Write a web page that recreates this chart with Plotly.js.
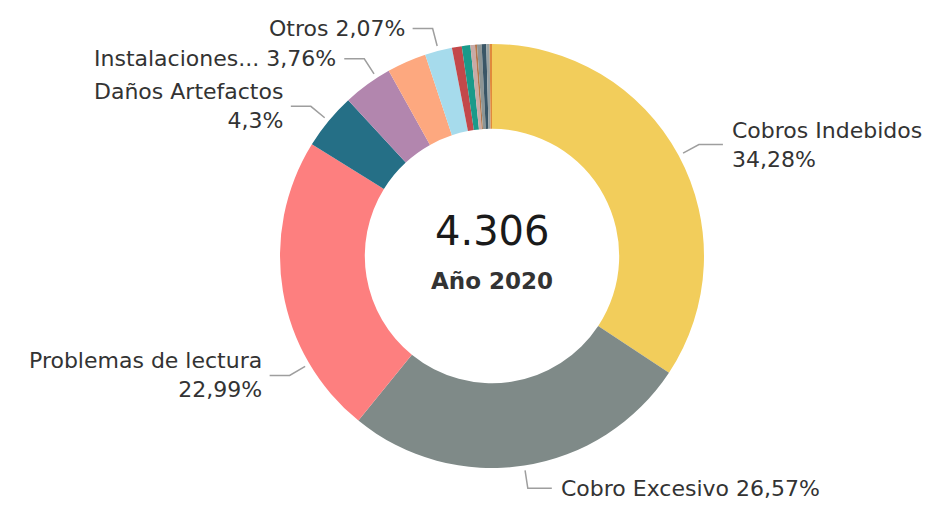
<!DOCTYPE html>
<html>
<head>
<meta charset="utf-8">
<script src="https://cdn.plot.ly/plotly-3.0.1.min.js"></script>
<style>
  html, body { margin: 0; padding: 0; background: #fff; }
  #chart { width: 930px; height: 506px; }
</style>
</head>
<body>
<div id="chart"></div>
<script>
// Reclamos por tipo, año 2020 (porcentaje del total)
let categorias = [
  "Cobros Indebidos", "Cobro Excesivo", "Problemas de lectura", "Daños Artefactos",
  "Instalaciones...", "Suministro", "Otros", "Corte y reposición", "Medidores",
  "Calidad", "Atención", "Facturación", "Conexiones", "Alumbrado", "Varios"
]
let porcentajes = [34.28, 26.57, 22.99, 4.3, 3.76, 3.0, 2.07, 0.75, 0.65, 0.35, 0.15, 0.35, 0.35, 0.25, 0.18]
let colores = [
  "#F2CD5B", "#7F8A88", "#FD7F7F", "#256F86", "#B286AE", "#FDA87F", "#A6DBEC",
  "#C3484A", "#1A9A8A", "#C8AAA6", "#B5764A", "#8D9594", "#3A5666", "#9AA3A3", "#E08A3C"
]
let totalReclamos = "4.306"
let subtitulo = "Año 2020"

// Which slices get an outside label (shift = degrees moved from slice centre, br = two lines)
let etiquetas = [
  {i: 0, shift: 0, br: true},
  {i: 1, shift: 0, br: false},
  {i: 2, shift: -21, br: true},
  {i: 3, shift: 0, br: true},
  {i: 4, shift: 3, br: false},
  {i: 6, shift: 0, br: false}
]

// Geometry of the donut in pixels
const W = 930, H = 506
const CX = 492, CY = 256, R = 212
const px = x => x / W
const py = y => 1 - y / H

function fmtPct(v) {
  let s = v.toFixed(2).replace(/0+$/, "").replace(/\.$/, "")
  return s.replace(".", ",") + "%"
}

let trace = {
  type: "pie",
  labels: categorias,
  values: porcentajes,
  hole: 0.6,
  sort: false,
  direction: "clockwise",
  rotation: 0,
  textinfo: "none",
  hoverinfo: "label+percent",
  marker: {colors: colores, line: {width: 0}},
  domain: {x: [px(CX - R), px(CX + R)], y: [py(CY + R), py(CY - R)]}
}

let total = porcentajes.reduce((a, b) => a + b, 0)
let shapes = []
let annotations = []

etiquetas.forEach(e => {
  let before = 0
  for (let k = 0; k < e.i; k++) before += porcentajes[k]
  let mid = (before + porcentajes[e.i] / 2) / total * 360 + e.shift
  let a = mid * Math.PI / 180
  let sx = CX + (R + 5) * Math.sin(a), sy = CY - (R + 5) * Math.cos(a)
  let ex = CX + (R + 23) * Math.sin(a), ey = CY - (R + 23) * Math.cos(a)
  let right = Math.sin(a) > 0
  let hx = ex + (right ? 24 : -20)
  let tx = hx + (right ? 7 : -6)

  shapes.push({
    type: "path", xref: "paper", yref: "paper",
    path: "M " + px(sx) + " " + py(sy) + " L " + px(ex) + " " + py(ey) + " L " + px(hx) + " " + py(ey),
    line: {color: "#9E9E9E", width: 1.5}
  })
  annotations.push({
    xref: "paper", yref: "paper", x: px(tx), y: py(ey),
    xanchor: right ? "left" : "right", yanchor: "middle",
    align: right ? "left" : "right",
    text: categorias[e.i] + (e.br ? "<br>" : " ") + fmtPct(porcentajes[e.i]),
    showarrow: false,
    font: {family: "DejaVu Sans", size: 22, color: "#333333"}
  })
})

// Centre text
annotations.push({
  xref: "paper", yref: "paper", x: px(CX), y: py(231),
  xanchor: "center", yanchor: "middle", showarrow: false,
  text: totalReclamos,
  font: {family: "DejaVu Sans", size: 40, color: "#1A1A1A"}
})
annotations.push({
  xref: "paper", yref: "paper", x: px(CX), y: py(281),
  xanchor: "center", yanchor: "middle", showarrow: false,
  text: "<b>" + subtitulo + "</b>",
  font: {family: "DejaVu Sans", size: 23, color: "#333333"}
})

let layout = {
  width: W,
  height: H,
  margin: {l: 0, r: 0, t: 0, b: 0},
  showlegend: false,
  paper_bgcolor: "#ffffff",
  shapes: shapes,
  annotations: annotations
}

Plotly.newPlot("chart", [trace], layout, {displayModeBar: false, staticPlot: true})
</script>
</body>
</html>
